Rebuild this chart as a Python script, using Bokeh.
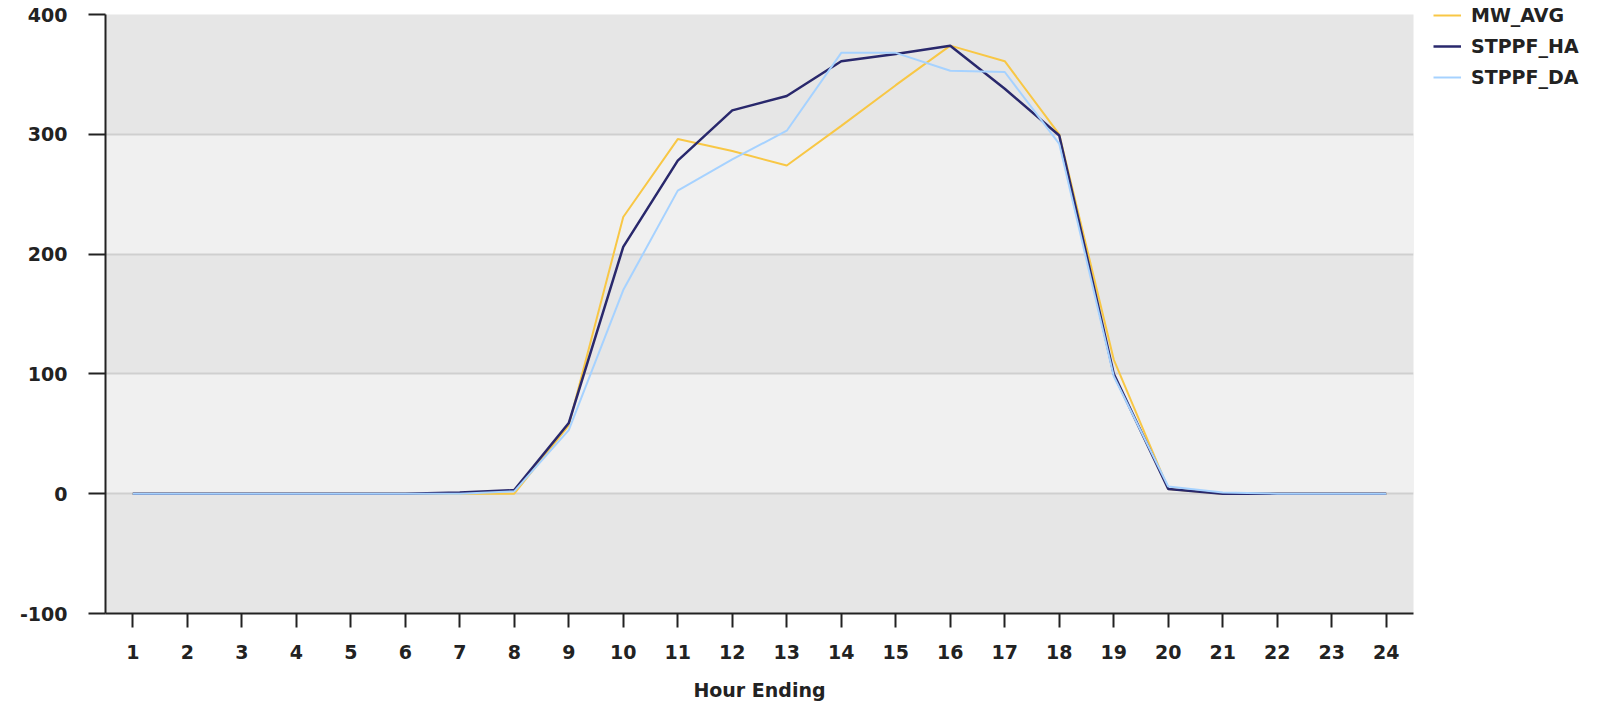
from bokeh.plotting import figure
from bokeh.models import Legend, LegendItem, FixedTicker, Range1d
from bokeh.embed import file_html
from bokeh.resources import INLINE

# ---- data ----
hours = list(range(1, 25))
mw_avg = [0, 0, 0, 0, 0, 0, 0, 0, 57, 231, 296, 286, 274, 307, 341, 374, 361, 300, 112, 4, 0, 0, 0, 0]
stppf_ha = [0, 0, 0, 0, 0, 0, 1, 3, 59, 206, 278, 320, 332, 361, 367, 374, 338, 299, 100, 4, 0, 0, 0, 0]
stppf_da = [0, 0, 0, 0, 0, 0, 0, 2, 53, 170, 253, 279, 303, 368, 368, 353, 352, 292, 98, 6, 1, 0, 0, 0]
y_ticks = [-100, 0, 100, 200, 300, 400]
series_names = ["MW_AVG", "STPPF_HA", "STPPF_DA"]
series_colors = ["#f8c745", "#29286c", "#a6d2ff"]
x_title = "Hour Ending"

FONT = "DejaVu Sans"
TXT = "#222222"

p = figure(frame_width=1308, frame_height=599,
           min_border_left=105, min_border_top=14, min_border_right=180, min_border_bottom=89,
           x_range=Range1d(0.5, 24.5), y_range=Range1d(-100, 400),
           output_backend="svg", toolbar_location=None)

p.background_fill_color = "#e6e6e6"
p.border_fill_color = "white"
p.outline_line_color = None

p.xgrid.grid_line_color = None
p.ygrid.grid_line_color = "#cfcfcf"
p.ygrid.grid_line_width = 2
p.ygrid.band_fill_color = "#f0f0f0"
p.ygrid.band_fill_alpha = 1.0

p.xaxis.ticker = FixedTicker(ticks=hours)
p.yaxis.ticker = FixedTicker(ticks=y_ticks)
p.yaxis.major_label_overrides = {t: str(t) for t in y_ticks}
for ax in (p.xaxis, p.yaxis):
    ax.axis_line_color = TXT
    ax.axis_line_width = 2
    ax.major_tick_line_color = TXT
    ax.major_tick_line_width = 2
    ax.major_tick_in = 0
    ax.minor_tick_line_color = None
    ax.major_label_text_font = FONT
    ax.major_label_text_font_style = "bold"
    ax.major_label_text_font_size = "19px"
    ax.major_label_text_color = TXT
p.yaxis.major_tick_out = 17
p.yaxis.major_label_standoff = 21
p.yaxis.major_label_text_baseline = "top"
p.xaxis.major_tick_out = 14
p.xaxis.major_label_standoff = 17
p.xaxis.axis_label = x_title
p.xaxis.axis_label_text_font = FONT
p.xaxis.axis_label_text_font_style = "bold"
p.xaxis.axis_label_text_font_size = "19px"
p.xaxis.axis_label_text_color = TXT
p.xaxis.axis_label_standoff = 17

items = []
widths = [2, 2.5, 2]
for name, ys, col, w in zip(series_names, [mw_avg, stppf_ha, stppf_da], series_colors, widths):
    r = p.line(hours, ys, line_color=col, line_width=w)
    items.append(LegendItem(label=name, renderers=[r]))

legend = Legend(items=items, location=(20, 524), orientation="vertical",
                background_fill_alpha=0, border_line_alpha=0,
                margin=0, padding=0, spacing=7,
                glyph_width=28, glyph_height=24, label_height=24, label_standoff=10,
                label_text_font=FONT, label_text_font_style="bold",
                label_text_font_size="19px", label_text_color=TXT)
p.add_layout(legend, "right")

open("out.html", "w").write(file_html(p, INLINE))
